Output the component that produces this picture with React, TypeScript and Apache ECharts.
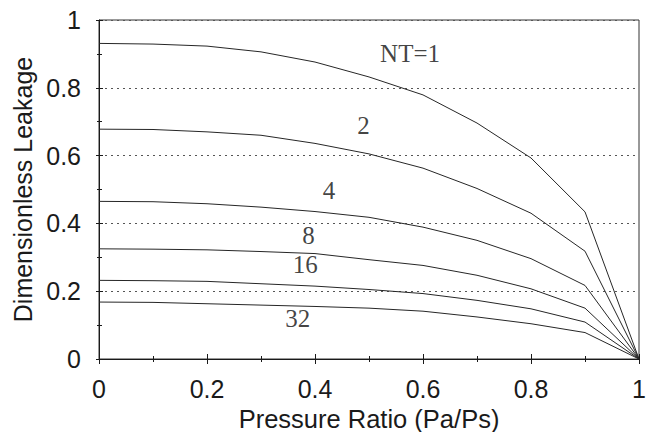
import React, { useEffect, useRef } from "react";
import * as echarts from "echarts";

const pressureRatio = [0, 0.1, 0.2, 0.3, 0.4, 0.5, 0.6, 0.7, 0.8, 0.9, 1.0];
const nt1 = [0.931, 0.929, 0.923, 0.906, 0.876, 0.832, 0.779, 0.696, 0.593, 0.434, 0];
const nt2 = [0.678, 0.677, 0.67, 0.66, 0.636, 0.605, 0.563, 0.503, 0.43, 0.318, 0];
const nt4 = [0.465, 0.464, 0.458, 0.448, 0.435, 0.418, 0.389, 0.35, 0.296, 0.217, 0];
const nt8 = [0.325, 0.324, 0.322, 0.317, 0.311, 0.293, 0.276, 0.247, 0.207, 0.15, 0];
const nt16 = [0.232, 0.231, 0.229, 0.222, 0.215, 0.205, 0.193, 0.173, 0.148, 0.109, 0];
const nt32 = [0.168, 0.167, 0.163, 0.159, 0.155, 0.15, 0.141, 0.124, 0.104, 0.078, 0];

const curveNames = ["NT=1", "NT=2", "NT=4", "NT=8", "NT=16", "NT=32"];
const curves = [nt1, nt2, nt4, nt8, nt16, nt32];

const labelTexts = ["NT=1", "2", "4", "8", "16", "32"];
const labelX = [0.576, 0.49, 0.426, 0.388, 0.382, 0.368];
const labelY = [0.9, 0.689, 0.496, 0.363, 0.279, 0.119];

export default function App() {
  const ref = useRef<HTMLDivElement>(null);
  useEffect(() => {
    if (!ref.current) return;
    const chart = echarts.init(ref.current, null, { renderer: "svg" });
    const sans = "Liberation Sans";
    const ink = "#1a1a1a";
    const lineSeries = curves.map((c, i) => ({
      type: "line",
      name: curveNames[i],
      xAxisIndex: 0,
      yAxisIndex: 0,
      data: pressureRatio.map((x, j) => [x, c[j]]),
      showSymbol: false,
      symbol: "none",
      lineStyle: { color: "#262626", width: 1 },
      silent: true,
    }));
    const outsideTicksX = {
      type: "value",
      min: 0,
      max: 1,
      interval: 0.2,
      position: "bottom",
      axisLine: { show: false },
      axisTick: { show: true, inside: false, length: 5, lineStyle: { color: ink } },
      minorTick: { show: true, splitNumber: 2, length: 3, lineStyle: { color: ink } },
      axisLabel: { show: false },
      splitLine: { show: false },
    };
    const outsideTicksY = {
      type: "value",
      min: 0,
      max: 1,
      interval: 0.2,
      position: "left",
      axisLine: { show: false },
      axisTick: { show: true, inside: false, length: 3, lineStyle: { color: ink } },
      minorTick: { show: true, splitNumber: 2, length: 2, lineStyle: { color: ink } },
      axisLabel: { show: false },
      splitLine: { show: false },
    };
    chart.setOption({
      animation: false,
      backgroundColor: "#fff",
      grid: {
        left: 99,
        right: 13,
        top: 20,
        bottom: 73,
        show: true,
        borderColor: "#333",
        borderWidth: 1,
        containLabel: false,
        outerBoundsMode: "none",
      },
      xAxis: [
        {
          type: "value",
          min: 0,
          max: 1,
          interval: 0.2,
          name: "Pressure Ratio (Pa/Ps)",
          nameLocation: "middle",
          nameGap: 41,
          nameTextStyle: { fontFamily: sans, fontSize: 25.5, color: ink },
          axisLine: { show: true, lineStyle: { color: ink, width: 1 } },
          axisTick: { show: true, inside: true, length: 5, lineStyle: { color: ink } },
          minorTick: { show: true, splitNumber: 2, length: 3, lineStyle: { color: ink } },
          axisLabel: { fontFamily: sans, fontSize: 25, color: ink, margin: 17 },
          splitLine: { show: false },
        },
        outsideTicksX,
      ],
      yAxis: [
        {
          type: "value",
          min: 0,
          max: 1,
          interval: 0.2,
          name: "Dimensionless Leakage",
          nameLocation: "middle",
          nameGap: 63,
          nameTextStyle: { fontFamily: sans, fontSize: 25, color: ink },
          axisLine: { show: true, lineStyle: { color: ink, width: 1 } },
          axisTick: { show: true, inside: true, length: 4, lineStyle: { color: ink } },
          minorTick: { show: true, splitNumber: 2, length: 3, lineStyle: { color: ink } },
          axisLabel: { fontFamily: sans, fontSize: 25, color: ink, margin: 18 },
          splitLine: { show: true, lineStyle: { color: "#555", type: [2, 4], width: 1 } },
        },
        outsideTicksY,
      ],
      series: [
        ...lineSeries,
        {
          type: "scatter",
          xAxisIndex: 0,
          yAxisIndex: 0,
          symbolSize: 0,
          silent: true,
          data: labelTexts.map((t, i) => [labelX[i], labelY[i], t]),
          label: {
            show: true,
            position: "inside",
            formatter: (p: any) => p.data[2],
            fontFamily: "Liberation Serif",
            fontSize: 25,
            color: "#111",
          },
        },
      ],
    });
    return () => chart.dispose();
  }, []);
  return (
    <div
      ref={ref}
      style={{ position: "fixed", left: 0, top: 0, width: 652, height: 432 }}
    />
  );
}
